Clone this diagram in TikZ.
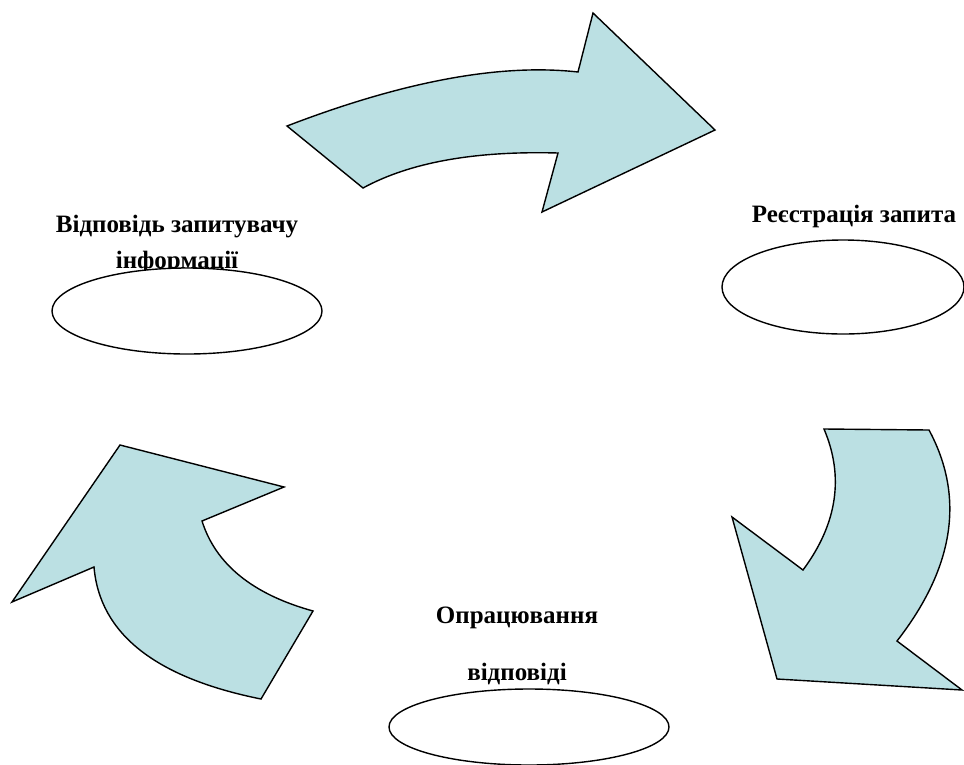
\documentclass[tikz,border=0pt]{standalone}
\usepackage{fontspec}
\setmainfont{Liberation Serif}
\usetikzlibrary{shapes.geometric}
\definecolor{strilkablue}{RGB}{187,224,227}

\begin{document}
\begin{tikzpicture}[x=1pt, y=-1pt, line cap=round, line join=miter,
    strilka/.style={draw=black, line width=1.4pt, fill=strilkablue},
    oval/.style={ellipse, draw=black, line width=1.4pt, fill=white, inner sep=0pt},
    etap/.style={anchor=base, inner sep=0pt, font=\fontsize{25}{30}\selectfont\bfseries}]
        \useasboundingbox (0,0) rectangle (964,764);

        % верхня стрілка (вправо)
        \draw[strilka] (287,126) .. controls (403.3,81.3) and (500.3,63.3) .. (578,72) -- (593,13) -- (715,130)
            -- (542,212) -- (558,153) .. controls (475,150.7) and (410,162.3) .. (363,188) -- cycle;

        % права стрілка (вниз)
        \draw[strilka] (824,429) -- (929,430) .. controls (965,497) and (954.3,567.3) .. (897,641) -- (962,690)
            -- (777,679) -- (732,517) -- (803,570) .. controls (837.3,523.7) and (844.3,476.7) .. (824,429) -- cycle;

        % ліва стрілка (вгору)
        \draw[strilka] (120,445) -- (284,487) -- (202,521) .. controls (215.7,564.3) and (252.7,594.3) .. (313,611)
            -- (261,699) .. controls (155.3,677.7) and (99.7,633.7) .. (94,567) -- (12,602) -- cycle;

        % етапи: підписи і овали
        \node[etap] (vidpovid1) at (177,232) {Відповідь запитувачу};
        \node[etap] (vidpovid2) at (177,268) {інформації};
        \node[oval, minimum width=270, minimum height=86] (vidpovid) at (187,311) {};

        \node[etap] (reiestr1) at (854,222) {Реєстрація запита};
        \node[oval, minimum width=242, minimum height=94] (reiestr) at (843,287) {};

        \node[etap] (opr1) at (517,623) {Опрацювання};
        \node[etap] (opr2) at (517,680) {відповіді};
        \node[oval, minimum width=280, minimum height=76] (opr) at (529,727) {};
    \end{tikzpicture}
\end{document}
